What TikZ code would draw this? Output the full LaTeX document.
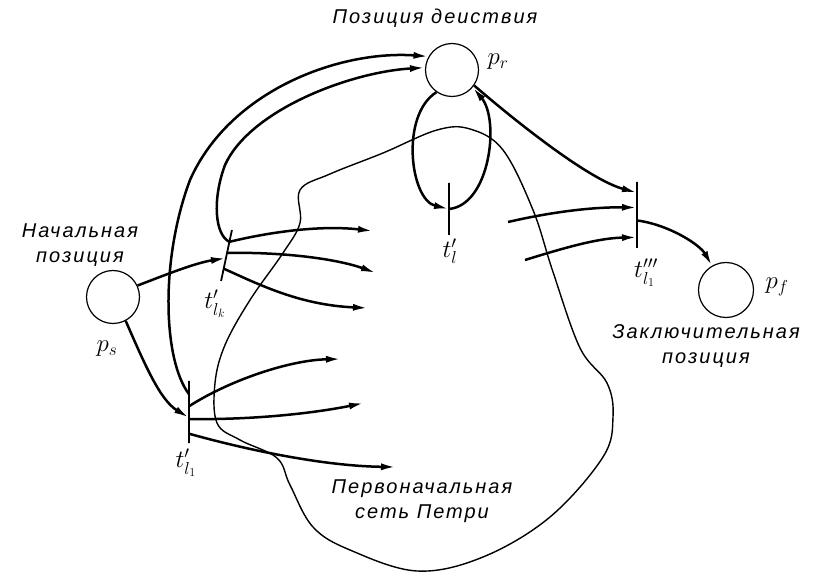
\documentclass[tikz,border=0pt]{standalone}
\usepackage{fontspec}
\newfontfamily\handfont[LetterSpace = 10]{Liberation Sans}
\usetikzlibrary{arrows.meta, calc}
\tikzset{
  place/.style = {circle, draw, line width = 1.2pt, minimum size = 53pt, inner sep = 0pt},
  bar/.style = {draw, line width = 1.8pt, inner sep = 0pt, minimum width = 0pt},
  arc/.style = {line width = 2.5pt, -{Latex[length = 15pt, width = 7pt]}},
  net/.style = {line width = 1.4pt},
  caption/.style = {font = \handfont\itshape\fontsize{20}{25}\selectfont, align = center},
  sym/.style = {font = \fontsize{24}{26}\selectfont, inner sep = 0pt}
}
\begin{document}
\begin{tikzpicture}[x = 1pt, y = -1pt]
      \useasboundingbox (0,0) rectangle (825,577);
      \node [place] (ps) at (113,297) {};
      \node [place] (pr) at (452,70) {};
      \node [place, minimum size = 55pt] (pf) at (726,290) {};
      \node [bar, minimum height = 52pt, rotate = -12] (tk) at (226.5,255.5) {};
      \node [bar, minimum height = 62pt] (t1) at (189,412) {};
      \node [bar, minimum height = 52pt] (ti) at (449,209) {};
      \node [bar, minimum height = 66pt] (t3) at (637,215) {};
      \node [caption] (start) at (80,245) {Начальная\\позиция};
      \node [caption] (action) at (435,18) {Позиция деиствия};
      \node [caption] (final) at (706,346) {Заключительная\\позиция};
      \node [caption] (orig) at (422,501) {Первоначальная\\сеть Петри};
      \node [sym] (lps) at (107,349) {$p_s$};
      \node [sym] (lpr) at (498,62) {$p_r$};
      \node [sym] (lpf) at (777,287) {$p_f$};
      \node [sym] (ltk) at (215,304) {$t'_{l_k}$};
      \node [sym] (lt1) at (186,463) {$t'_{l_1}$};
      \node [sym] (lti) at (450,251) {$t'_l$};
      \node [sym] (lt3) at (646,273) {$t'''_{l_1}$};
      \coordinate (k1) at (373,231);
      \coordinate (k2) at (376,273);
      \coordinate (k3) at (368,308);
      \coordinate (m1) at (341,359);
      \coordinate (m2) at (364,403);
      \coordinate (m3) at (396,467);
      \coordinate (c1) at (508,222);
      \coordinate (c2) at (525,260);
      \draw [net] plot [smooth cycle, tension = .6] coordinates {
        (300,190) (330,174) (383,153) (437,130) (470,129) (503,150) (533,210)
        (553,272) (580,348) (607,383) (613,417) (603,457) (550,517) (483,557)
        (417,571) (350,550) (313,527) (290,485) (277,458) (240,440) (217,423)
        (215,383) (225,345) (250,300) (283,253) (300,223)};
      \draw [arc] (ps.25) .. controls (165,275) and (195,263) .. ($(tk.north)!.55!(tk.south)$);
      \draw [arc] (ps.-62) .. controls (145,365) and (160,400) .. ($(t1.north)!.59!(t1.south)$);
      \draw [arc] ($(t1.north)!.22!(t1.south)$) .. controls (163,360) and (160,260) .. (190,180)
        .. controls (230,90) and (340,50) .. (pr.150);
      \draw [arc] ($(tk.north)!.24!(tk.south)$) .. controls (215,235) and (212,200) .. (225,165)
        .. controls (250,110) and (350,72) .. (pr.175);
      \draw [arc] (pr.235) .. controls (400,115) and (410,200) .. (ti.center);
      \draw [arc] (ti.center) .. controls (490,205) and (500,120) .. (pr.-40);
      \draw [arc] (pr.-35) .. controls (520,125) and (590,180) .. ($(t3.north)!.17!(t3.south)$);
      \draw [arc] (c1) .. controls (560,210) and (600,207) .. ($(t3.north)!.39!(t3.south)$);
      \draw [arc] (c2) .. controls (570,246) and (600,238) .. ($(t3.north)!.83!(t3.south)$);
      \draw [arc] ($(t3.north)!.58!(t3.south)$) .. controls (670,225) and (700,245) .. (pf.120);
      \draw [arc] ($(tk.north)!.24!(tk.south)$) .. controls (270,232) and (320,225) .. (k1);
      \draw [arc] ($(tk.north)!.45!(tk.south)$) .. controls (290,252) and (340,260) .. (k2);
      \draw [arc] ($(tk.north)!.75!(tk.south)$) .. controls (260,285) and (300,305) .. (k3);
      \draw [arc] ($(t1.north)!.41!(t1.south)$) .. controls (230,380) and (290,360) .. (m1);
      \draw [arc] ($(t1.north)!.61!(t1.south)$) .. controls (260,420) and (320,412) .. (m2);
      \draw [arc] ($(t1.north)!.84!(t1.south)$) .. controls (240,448) and (320,466) .. (m3);
    \end{tikzpicture}
\end{document}
